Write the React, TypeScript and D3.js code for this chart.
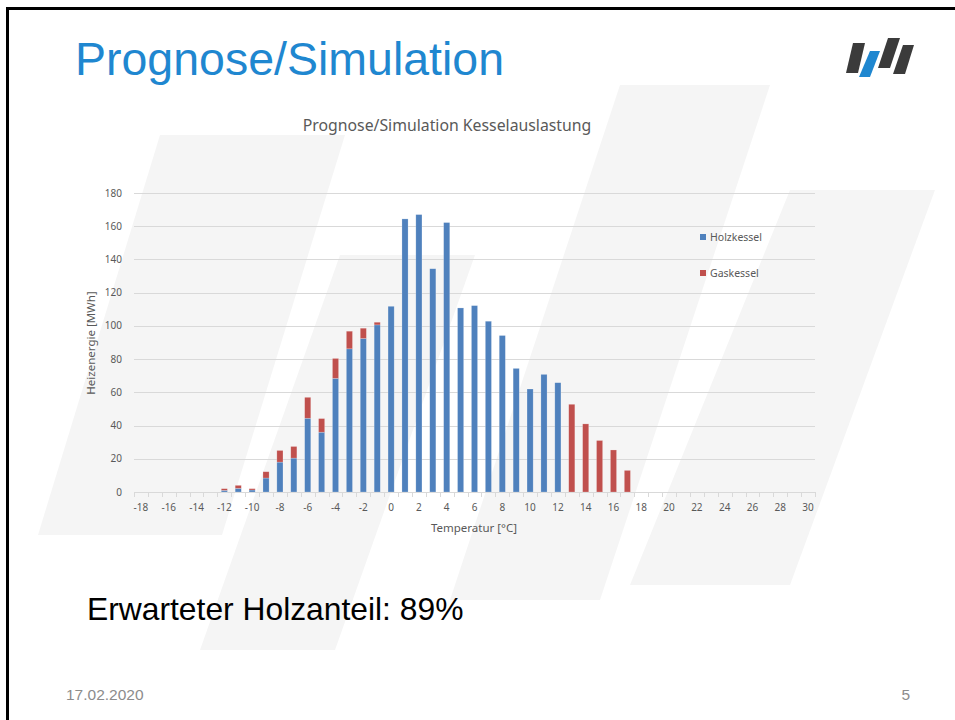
import React from 'react'
import * as d3 from 'd3'

const W = 955
const H = 720

// temperature categories [°C]
const temps = [
  -18, -17, -16, -15, -14, -13, -12, -11, -10, -9, -8, -7, -6, -5, -4, -3, -2, -1,
  0, 1, 2, 3, 4, 5, 6, 7, 8, 9, 10, 11, 12, 13, 14, 15, 16, 17, 18, 19, 20,
  21, 22, 23, 24, 25, 26, 27, 28, 29, 30,
]
// MWh per temperature
const holzkessel = [
  0, 0, 0, 0, 0, 0, 1, 2.2, 1.2, 8.4, 18, 20.4, 44.4, 36, 68.4, 86.2, 92.4, 100.6,
  111.8, 164.4, 167, 134.4, 162.2, 110.8, 112.2, 102.8, 94.2, 74.4, 62, 70.8, 65.8, 0, 0, 0, 0, 0, 0, 0, 0,
  0, 0, 0, 0, 0, 0, 0, 0, 0, 0,
]
const gaskessel = [
  0, 0, 0, 0, 0, 0, 1, 1.8, 0.8, 3.8, 7, 7, 12.6, 8.2, 12, 10.6, 6.2, 1.6,
  0, 0, 0, 0, 0, 0, 0, 0, 0, 0, 0, 0, 0, 52.8, 41, 31, 25.3, 13, 0, 0, 0,
  0, 0, 0, 0, 0, 0, 0, 0, 0, 0,
]
const seriesNames = ['Holzkessel', 'Gaskessel']
const seriesColors = ['#4f81bd', '#c0504d']
const yTicks = [0, 20, 40, 60, 80, 100, 120, 140, 160, 180]

const chartFont = '"Noto Sans", sans-serif'
const slideFont = '"Liberation Sans", Arial, sans-serif'
const axisGrey = '#595959'
const gridGrey = '#d9d9d9'

// watermark shapes of the logo behind the chart
const watermark = [
  [[38, 535], [160, 135], [345, 135], [222, 535]],
  [[200, 650], [340, 255], [475, 255], [335, 650]],
  [[450, 600], [620, 85], [770, 85], [600, 600]],
  [[630, 585], [790, 190], [935, 190], [790, 585]],
]

// logo top right
const logo = [
  { pts: [[853, 43], [865, 43], [858, 73], [846, 73]], fill: '#3b3b3b' },
  { pts: [[870, 51], [880, 51], [870, 77], [859, 77]], fill: '#1f87d0' },
  { pts: [[888, 38], [900, 38], [890, 68], [878, 68]], fill: '#3b3b3b' },
  { pts: [[903, 45], [914, 45], [905, 74], [893, 74]], fill: '#3b3b3b' },
]

export default function App() {
  const x = d3.scaleBand<number>().domain(temps).range([134, 815]).paddingInner(0.56).paddingOuter(0.28)
  const y = d3.scaleLinear().domain([0, 180]).range([492, 193])
  const step = x.step()

  const rows = temps.map((t, i) => ({ t, Holzkessel: holzkessel[i], Gaskessel: gaskessel[i] }))
  const stacked = d3.stack<any>().keys(seriesNames)(rows)
  const poly = (pts: number[][]) => pts.map(p => p.join(',')).join(' ')

  return (
    <svg width={W} height={H} style={{ position: 'absolute', left: 0, top: 0, background: '#fff' }}>
      <rect x={0} y={0} width={W} height={H} fill="#fff" />
      {watermark.map((p, i) => (
        <polygon key={i} points={poly(p)} fill="#f5f5f5" />
      ))}

      {/* slide border */}
      <line x1={6} y1={8.5} x2={W} y2={8.5} stroke="#000" strokeWidth={3} />
      <line x1={7.5} y1={7} x2={7.5} y2={H} stroke="#000" strokeWidth={3} />

      <text x={75} y={75} fontFamily={slideFont} fontSize={46.5} fill="#1f87d0">Prognose/Simulation</text>
      {logo.map((l, i) => <polygon key={i} points={poly(l.pts)} fill={l.fill} />)}

      {/* chart */}
      <text x={447} y={131} textAnchor="middle" fontFamily={chartFont} fontSize={15.8} fill={axisGrey}>
        Prognose/Simulation Kesselauslastung
      </text>

      {yTicks.map(t => (
        <g key={t}>
          <line x1={134} x2={815} y1={Math.round(y(t)) + 0.5} y2={Math.round(y(t)) + 0.5} stroke={gridGrey} strokeWidth={1} />
          <text x={122} y={y(t)} dy="0.35em" textAnchor="end" fontFamily={chartFont} fontSize={10} fill={axisGrey}>{t}</text>
        </g>
      ))}
      {temps.concat([31]).map((t, i) => {
        const xx = Math.round(134 + i * step) + 0.5
        return <line key={'tk' + t} x1={xx} x2={xx} y1={492} y2={497} stroke={gridGrey} />
      })}

      {stacked.map((s, si) => (
        <g key={s.key} fill={seriesColors[si]}>
          {s.map((d, i) => d[1] - d[0] > 0 ? (
            <rect key={i} x={x(temps[i])} width={x.bandwidth()} y={y(d[1])} height={y(d[0]) - y(d[1])}
              stroke="#fff" strokeOpacity={0.35} strokeWidth={0.6} />
          ) : null)}
        </g>
      ))}

      {temps.filter(t => t % 2 === 0).map(t => (
        <text key={'xl' + t} x={(x(t) ?? 0) + x.bandwidth() / 2} y={511} textAnchor="middle"
          fontFamily={chartFont} fontSize={10} fill={axisGrey}>{t}</text>
      ))}

      <text x={474} y={532} textAnchor="middle" fontFamily={chartFont} fontSize={11.5} fill={axisGrey}>Temperatur [°C]</text>
      <text transform="translate(95,343) rotate(-90)" textAnchor="middle" fontFamily={chartFont} fontSize={11.5} fill={axisGrey}>
        Heizenergie [MWh]
      </text>

      {seriesNames.map((n, i) => (
        <g key={n} transform={`translate(700,${237 + i * 36})`}>
          <rect x={0} y={-3} width={6} height={6} fill={seriesColors[i]} />
          <text x={10} y={0} dy="0.35em" fontFamily={chartFont} fontSize={10.5} fill={axisGrey}>{n}</text>
        </g>
      ))}

      <text x={87} y={620} fontFamily={slideFont} fontSize={31.8} fill="#000">Erwarteter Holzanteil: 89%</text>
      <text x={66} y={700} fontFamily={slideFont} fontSize={15.5} fill="#8c8c8c">17.02.2020</text>
      <text x={910} y={700} textAnchor="end" fontFamily={slideFont} fontSize={15.5} fill="#8c8c8c">5</text>
    </svg>
  )
}
